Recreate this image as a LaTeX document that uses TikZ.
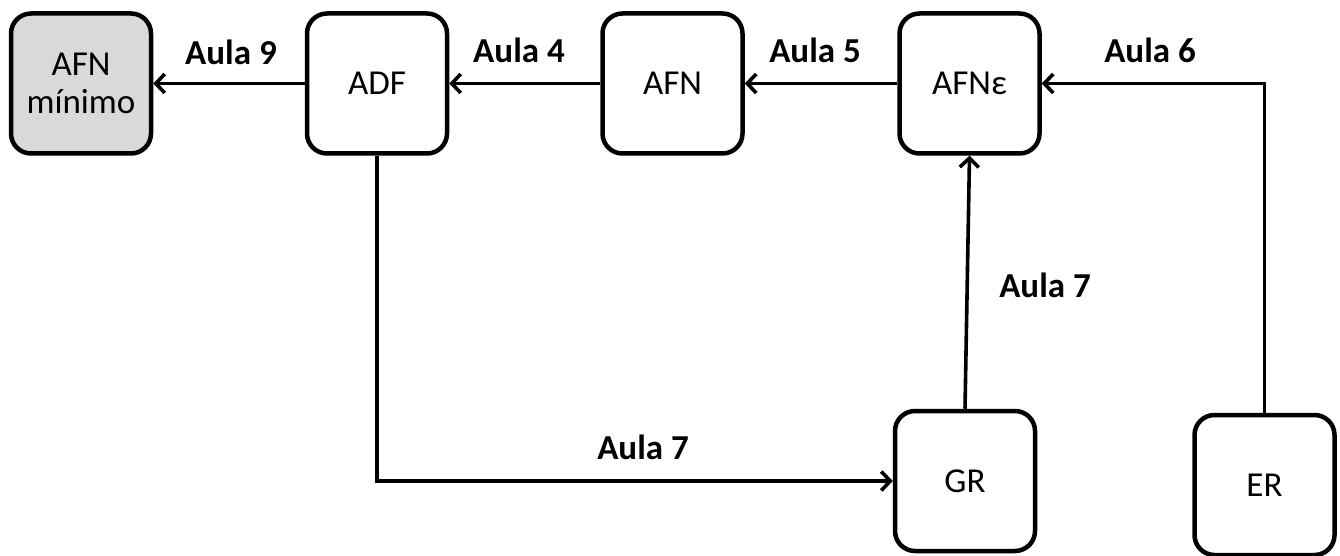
\documentclass[tikz,border=0pt]{standalone}
\usepackage{fontspec}
\setmainfont{Carlito}
\usetikzlibrary{arrows.meta}
\begin{document}
\begin{tikzpicture}[x=1pt,y=-1pt,
  box/.style={draw=black, line width=4.5pt, rounded corners=20pt, minimum width=140pt, minimum height=140pt, align=center, font=\fontsize{35}{38}\selectfont, fill=white, inner sep=0pt},
  conn/.style={line width=3.6pt, -{Straight Barb[length=9pt,width=19pt]}},
  lbl/.style={font=\fontsize{35}{38}\selectfont\bfseries}]
\useasboundingbox (0,0) rectangle (1340,556);
\node[box, fill={rgb,255:red,217;green,217;blue,217}] (m) at (81,83.5) {AFN\\mínimo};
\node[box] (adf) at (377,83.5) {ADF};
\node[box] (afn) at (672.5,83.5) {AFN};
\node[box] (afne) at (969.5,83.5) {AFNε};
\node[box] (gr) at (965,481) {GR};
\node[box] (er) at (1264.5,485) {ER};
\draw[conn] (adf.west) -- (m.east);
\draw[conn] (afn.west) -- (adf.east);
\draw[conn] (afne.west) -- (afn.east);
\draw[conn] (er.north) |- (afne.east);
\draw[conn] (gr.north) -- (afne.south);
\draw[conn] (adf.south) |- (gr.west);
\node[lbl] (l9) at (231,52) {Aula 9};
\node[lbl] (l4) at (519,50) {Aula 4};
\node[lbl] (l5) at (815,50) {Aula 5};
\node[lbl] (l6) at (1150,50) {Aula 6};
\node[lbl] (l7a) at (1045,285) {Aula 7};
\node[lbl] (l7b) at (643,447) {Aula 7};
\end{tikzpicture}
\end{document}
